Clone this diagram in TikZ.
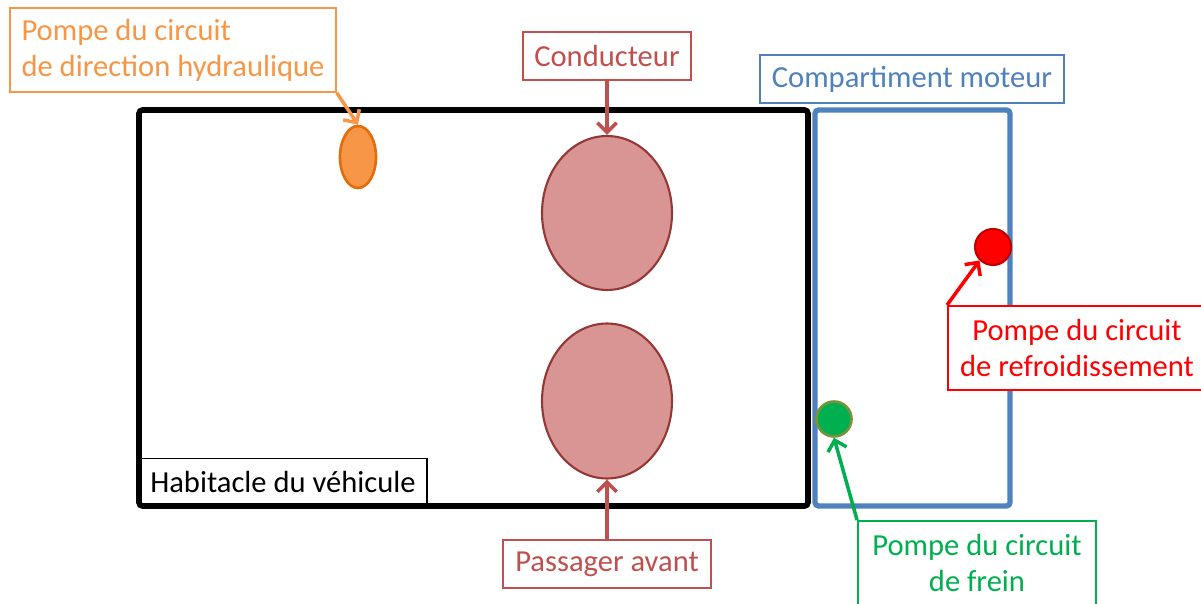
\documentclass[tikz,border=0pt]{standalone}
\usepackage{fontspec}
\setmainfont{Carlito}
\usetikzlibrary{shapes.geometric,arrows.meta}

\definecolor{pumporange}{HTML}{F79646}
\definecolor{pumporangedark}{HTML}{E46C0A}
\definecolor{seatred}{HTML}{C0504D}
\definecolor{seatfill}{HTML}{D99594}
\definecolor{seatborder}{HTML}{953735}
\definecolor{enginblue}{HTML}{4F81BD}
\definecolor{coolred}{HTML}{FF0000}
\definecolor{coolreddark}{HTML}{C00000}
\definecolor{brakegreen}{HTML}{00B050}
\definecolor{brakeolive}{HTML}{77933C}

\begin{document}
\begin{tikzpicture}[x=0.02cm, y=-0.02cm, >={Straight Barb[length=5.5pt,width=11pt]},
    labelbox/.style={draw=#1, text=#1, line width=1.1pt, fill=white, inner sep=0pt,
      font=\fontsize{17.4}{20.4}\selectfont},
    labelbox/.default=black,
    pointer/.style={->, line width=2pt}]

        % Page size of the reference
        \useasboundingbox (0,0) rectangle (1201,604);

        % Label of the passenger compartment (under its frame)
        \node[labelbox, minimum width=5.76cm, minimum height=0.94cm] (habLbl) at (283,482) {Habitacle du véhicule};

        % Passenger compartment and engine compartment
        \draw[line width=3.2pt, rounded corners=2pt] (139,110) rectangle (808,506);
        \draw[enginblue, line width=3pt, rounded corners=2pt] (815,110) rectangle (1010,506);

        % Seats
        \node[ellipse, draw=seatborder, fill=seatfill, line width=1.2pt, minimum width=2.6cm, minimum height=3.08cm] (conducteur) at (607,213) {};
        \node[ellipse, draw=seatborder, fill=seatfill, line width=1.2pt, minimum width=2.6cm, minimum height=3.1cm] (passager) at (607,401) {};

        % Pumps
        \node[ellipse, draw=pumporangedark, fill=pumporange, line width=1.5pt, minimum width=0.72cm, minimum height=1.24cm] (dirPump) at (358,157) {};
        \node[circle, draw=coolreddark, fill=coolred, line width=1.2pt, minimum size=0.72cm] (coolPump) at (993,247) {};
        \node[circle, draw=brakeolive, fill=brakegreen, line width=1.5pt, minimum size=0.7cm] (brakePump) at (834,419) {};

        % Labels
        \node[labelbox=pumporange, minimum width=6.52cm, minimum height=1.68cm, align=left] (dirLbl) at (173,50) {Pompe du circuit\\de direction hydraulique};
        \node[labelbox=seatred, minimum width=3.36cm, minimum height=0.96cm] (condLbl) at (607,56) {Conducteur};
        \node[labelbox=seatred, minimum width=4.16cm, minimum height=0.96cm] (passLbl) at (607,564) {Passager avant};
        \node[labelbox=enginblue, minimum width=6.08cm, minimum height=0.96cm] (motLbl) at (912,79) {Compartiment moteur};
        \node[labelbox=coolred, minimum width=5.16cm, minimum height=1.68cm, align=center] (coolLbl) at (1077,348) {Pompe du circuit\\de refroidissement};
        \node[labelbox=brakegreen, minimum width=4.76cm, minimum height=1.68cm, align=center] (brakeLbl) at (977,563) {Pompe du circuit\\de frein};

        % Pointers from the labels
        \draw[pointer, pumporange] (dirLbl.south east) -- (dirPump.north);
        \draw[pointer, seatred] (condLbl.south) -- (conducteur.north);
        \draw[pointer, seatred] (passLbl.north) -- (passager.south);
        \draw[pointer, coolred] (coolLbl.north west) -- (coolPump.south west);
        \draw[pointer, brakegreen] (brakeLbl.north west) -- (brakePump.south);

\end{tikzpicture}
\end{document}
